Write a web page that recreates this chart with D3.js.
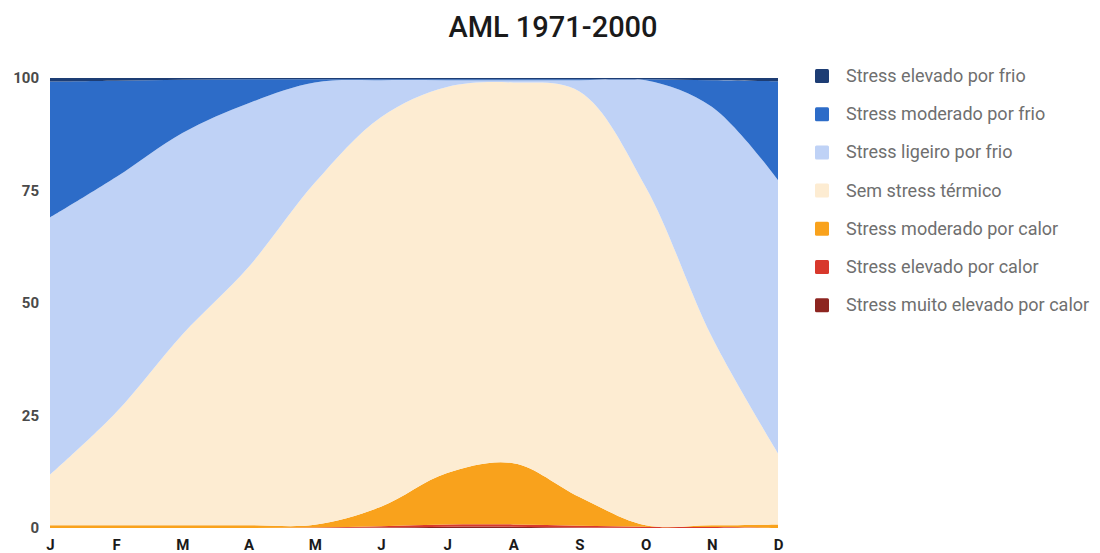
<!DOCTYPE html>
<html>
<head>
<meta charset="utf-8">
<script src="https://cdn.jsdelivr.net/npm/d3@7/dist/d3.min.js"></script>
<style>
  html, body { margin: 0; padding: 0; background: #fff; }
  svg { display: block; font-family: Roboto, "Noto Sans", sans-serif; }
</style>
</head>
<body>
<svg id="chart" width="1100" height="553"></svg>
<script>
// Monthly share (%) of days in each thermal stress class, AML 1971-2000
const months = ["J", "F", "M", "A", "M", "J", "J", "A", "S", "O", "N", "D"];
const yTicks = [0, 25, 50, 75, 100];

const muitoElevadoCalor = [0, 0, 0, 0, 0, 0.1, 0.3, 0.3, 0.1, 0, 0, 0];
const elevadoCalor      = [0, 0, 0, 0, 0.1, 0.3, 0.5, 0.5, 0.4, 0.3, 0.2, 0];
const moderadoCalor     = [0.6, 0.6, 0.6, 0.6, 0.6, 4.3, 11.4, 13.6, 6.4, 0.3, 0.4, 0.8];
const semStress         = [11.2, 25.1, 42.4, 57.4, 76.0, 86.6, 85.8, 84.6, 90.1, 75.2, 41.9, 15.8];
const ligeiroFrio       = [57.2, 52.3, 44.8, 36.4, 22.3, 8.2, 1.5, 0.5, 2.5, 23.7, 51.1, 60.7];
const moderadoFrio      = [30.2, 21.4, 11.8, 5.3, 0.7, 0.2, 0.2, 0.2, 0.2, 0.2, 5.9, 22.0];
const elevadoFrio       = [0.8, 0.6, 0.4, 0.3, 0.3, 0.3, 0.3, 0.3, 0.3, 0.3, 0.5, 0.7];

// Legend order (top to bottom) is the reverse of the stacking order
const series = [
  { key: "ef",  name: "Stress elevado por frio",        values: elevadoFrio,       color: "#1d3d74" },
  { key: "mf",  name: "Stress moderado por frio",       values: moderadoFrio,      color: "#2d6cc8" },
  { key: "lf",  name: "Stress ligeiro por frio",        values: ligeiroFrio,       color: "#bfd2f6" },
  { key: "ss",  name: "Sem stress térmico",             values: semStress,         color: "#fdecd2" },
  { key: "mc",  name: "Stress moderado por calor",      values: moderadoCalor,     color: "#f9a21c" },
  { key: "ec",  name: "Stress elevado por calor",       values: elevadoCalor,      color: "#d8382c" },
  { key: "mec", name: "Stress muito elevado por calor", values: muitoElevadoCalor, color: "#8d2520" }
];

const svg = d3.select("#chart");
const plot = { left: 50, right: 778, top: 78, bottom: 528 };

const rows = months.map((m, i) => {
  const r = { i };
  series.forEach(s => { r[s.key] = s.values[i]; });
  return r;
});

const stackKeys = series.map(s => s.key).reverse();
const stacked = d3.stack().keys(stackKeys)(rows);

const x = d3.scalePoint().domain(d3.range(months.length)).range([plot.left, plot.right]);
const y = d3.scaleLinear().domain([0, 100]).range([plot.bottom, plot.top]);

const area = d3.area()
  .x(d => x(d.data.i))
  .y0(d => y(d[0]))
  .y1(d => y(d[1]))
  .curve(d3.curveCatmullRom.alpha(0.5));

const colorOf = Object.fromEntries(series.map(s => [s.key, s.color]));

const clip = svg.append("clipPath").attr("id", "plot-clip")
  .append("rect")
  .attr("x", plot.left).attr("y", plot.top)
  .attr("width", plot.right - plot.left).attr("height", plot.bottom - plot.top);

svg.append("g").attr("clip-path", "url(#plot-clip)")
  .selectAll("path")
  .data(stacked)
  .join("path")
  .attr("d", area)
  .attr("fill", d => colorOf[d.key]);

// Title
svg.append("text")
  .attr("x", 553).attr("y", 37)
  .attr("text-anchor", "middle")
  .attr("font-size", 29).attr("font-weight", 500)
  .attr("fill", "#1a1a1a")
  .text("AML 1971-2000");

// Y axis labels
const yAxis = d3.axisLeft(y).tickValues(yTicks).tickSize(0).tickPadding(11);
const gy = svg.append("g").attr("transform", `translate(${plot.left},0)`).call(yAxis);
gy.select(".domain").remove();
gy.selectAll("text")
  .attr("font-family", "Roboto, sans-serif")
  .attr("font-size", 15).attr("font-weight", 700)
  .attr("fill", "#4a4a4a");

// X axis labels
const xAxis = d3.axisBottom(x).tickFormat(i => months[i]).tickSize(0).tickPadding(11);
const gx = svg.append("g").attr("transform", `translate(0,${plot.bottom})`).call(xAxis);
gx.select(".domain").remove();
gx.selectAll("text")
  .attr("font-family", "Roboto, sans-serif")
  .attr("font-size", 15).attr("font-weight", 700)
  .attr("fill", "#1a1a1a");

// Legend
const legend = svg.append("g").attr("transform", "translate(815,76)");
const item = legend.selectAll("g")
  .data(series)
  .join("g")
  .attr("transform", (d, i) => `translate(0,${i * 38.2})`);
item.append("rect")
  .attr("x", 0).attr("y", -7).attr("width", 14).attr("height", 14)
  .attr("rx", 1.5)
  .attr("fill", d => d.color);
item.append("text")
  .attr("x", 31).attr("y", 6)
  .attr("font-size", 18)
  .attr("fill", "#6f6f6f")
  .text(d => d.name);
</script>
</body>
</html>
